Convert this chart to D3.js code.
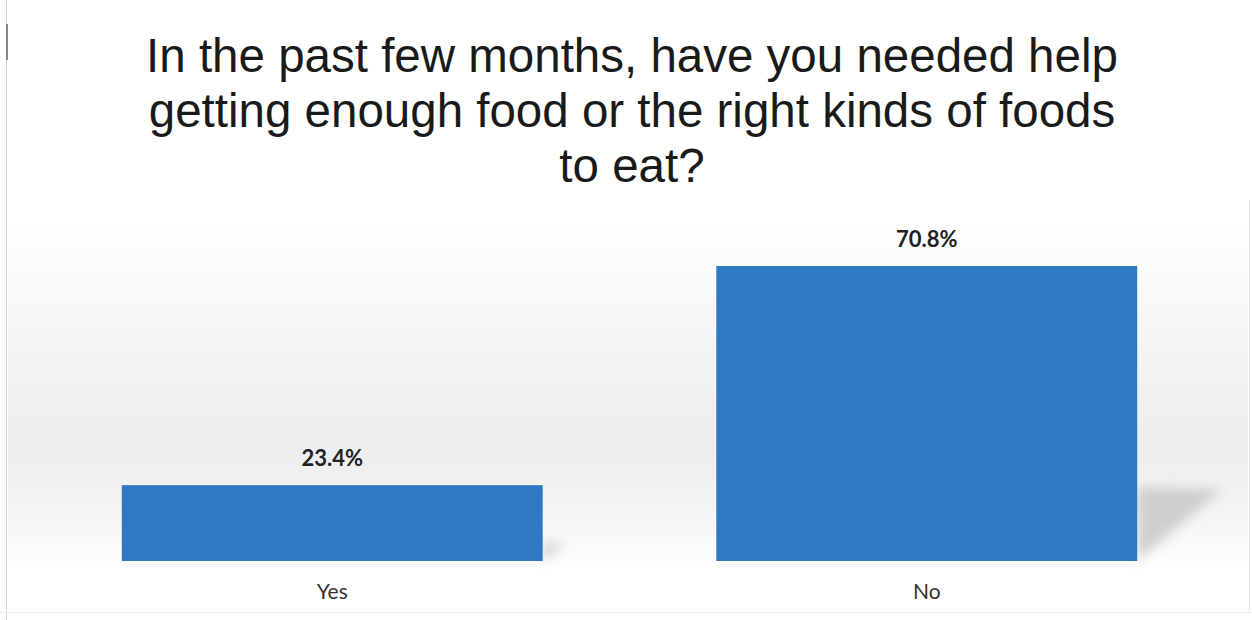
<!DOCTYPE html>
<html>
  <head>
    <title>Food help</title>
    <script src="https://cdnjs.cloudflare.com/ajax/libs/d3/7.8.5/d3.min.js"></script>
    <style>
      body { margin: 0; background: #fff; }
      .title { font-family: "Liberation Sans", Arial, sans-serif; font-size: 47.5px; fill: #1a1a1a; }
      .val { font-family: Lato, "Open Sans", sans-serif; font-weight: bold; font-size: 22px; fill: #222; }
      .cat { font-family: Lato, "Open Sans", sans-serif; font-size: 21px; fill: #333; }
    </style>
  </head>
  <body>
    <div id="chart"></div>
    <script>
      // data
      var categories = ["Yes", "No"];
      var values = [23.4, 70.8];
      var titleLines = [
        "In the past few months, have you needed help",
        "getting enough food or the right kinds of foods",
        "to eat?"
      ];

      var W = 1252, H = 620;
      var svg = d3.select("#chart").append("svg")
        .attr("width", W).attr("height", H);

      var defs = svg.append("defs");
      var bg = defs.append("linearGradient").attr("id", "bg")
        .attr("x1", 0).attr("y1", 0).attr("x2", 0).attr("y2", 1);
      bg.append("stop").attr("offset", "0%").attr("stop-color", "#fff");
      bg.append("stop").attr("offset", "35%").attr("stop-color", "#f4f4f4");
      bg.append("stop").attr("offset", "65%").attr("stop-color", "#ededed");
      bg.append("stop").attr("offset", "85%").attr("stop-color", "#f5f5f5");
      bg.append("stop").attr("offset", "100%").attr("stop-color", "#fff");
      defs.append("filter").attr("id", "blur")
        .attr("x", "-50%").attr("y", "-50%").attr("width", "200%").attr("height", "200%")
        .append("feGaussianBlur").attr("stdDeviation", 6);

      // background wall
      svg.append("rect").attr("x", 8).attr("y", 225).attr("width", 1240).attr("height", 345)
        .attr("fill", "url(#bg)");

      // frame lines
      svg.append("line").attr("x1", 6.5).attr("x2", 6.5).attr("y1", 0).attr("y2", H)
        .attr("stroke", "#d3d3d3");
      svg.append("line").attr("x1", 7).attr("x2", 7).attr("y1", 24).attr("y2", 60)
        .attr("stroke", "#666").attr("stroke-width", 1.5);
      svg.append("line").attr("x1", 1249.5).attr("x2", 1249.5).attr("y1", 200).attr("y2", 612)
        .attr("stroke", "#e4e4e4");
      svg.append("line").attr("x1", 0).attr("x2", W).attr("y1", 612.5).attr("y2", 612.5)
        .attr("stroke", "#efefef");

      // title
      svg.append("text").attr("class", "title")
        .attr("text-anchor", "middle")
        .selectAll("tspan").data(titleLines).enter().append("tspan")
        .attr("x", 632)
        .attr("y", function(d, i) { return 72 + i * 55; })
        .text(function(d) { return d; });

      var x = d3.scaleBand().domain(categories)
        .range([35, 1224]).paddingInner(0.292).paddingOuter(0.146);
      var y = d3.scaleLinear().domain([7, 75]).range([561, 246.6]);

      var bars = svg.append("g").selectAll("g")
        .data(categories.map(function(c, i) { return { cat: c, value: values[i] }; }))
        .enter().append("g");

      // soft shadows
      bars.append("polygon")
        .attr("points", function(d) {
          var r = x(d.cat) + x.bandwidth(), b = y.range()[0], h = b - y(d.value);
          var top = b - 0.25 * h, ext = 0.29 * h;
          return [[r, top], [r + ext, top + 2], [r, b]].join(" ");
        })
        .attr("fill", "#c2c2c2").attr("opacity", 0.75)
        .attr("filter", "url(#blur)");

      bars.append("rect")
        .attr("x", function(d) { return x(d.cat); })
        .attr("width", x.bandwidth())
        .attr("y", function(d) { return y(d.value); })
        .attr("height", function(d) { return y.range()[0] - y(d.value); })
        .attr("fill", "#2f78c4");

      bars.append("text").attr("class", "val")
        .attr("text-anchor", "middle")
        .attr("x", function(d) { return x(d.cat) + x.bandwidth() / 2; })
        .attr("y", function(d) { return y(d.value) - 19; })
        .text(function(d) { return d.value.toFixed(1) + "%"; });

      svg.append("g").attr("transform", "translate(0,599)")
        .call(d3.axisBottom(x).tickSize(0).tickPadding(0))
        .call(function(g) { g.select(".domain").remove(); })
        .selectAll("text").attr("class", "cat")
        .attr("dy", 0).attr("font-family", null).attr("font-size", null).attr("fill", null);
    </script>
  </body>
</html>
